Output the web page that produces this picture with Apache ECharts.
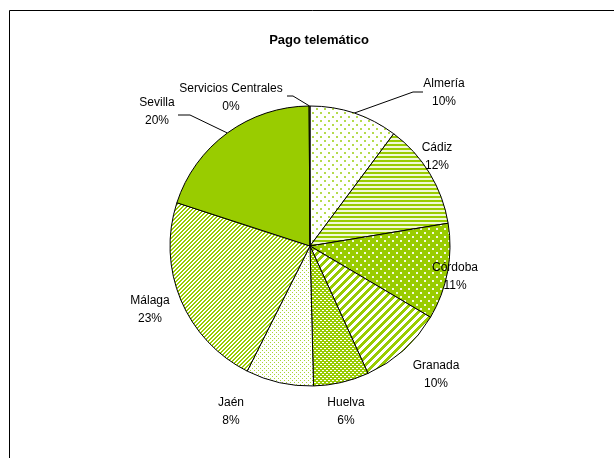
<!DOCTYPE html>
<html>
<head>
<meta charset="utf-8">
<script src="https://cdn.jsdelivr.net/npm/echarts@6/dist/echarts.min.js"></script>
<style>
    html, body {margin: 0; padding: 0; background: #fff;}
    #pago {width: 614px; height: 458px;}
</style>
</head>
<body>
<div id="pago"></div>
<script>
// datos del gráfico
var provincias = ['Almería', 'Cádiz', 'Córdoba', 'Granada', 'Huelva', 'Jaén', 'Málaga', 'Sevilla', 'Servicios Centrales'];
var valores = [10.2, 12.2, 11.1, 9.7, 6.4, 7.8, 22.6, 19.9, 0.1];
var titulo = 'Pago telemático';

(function () {
    var VERDE = '#99CC00';
    var CX = 310, CY = 246, R = 140;

    // tramas de relleno (como en Excel)
    function trama(w, h, dibujar) {
        var c = document.createElement('canvas');
        c.width = w; c.height = h;
        var ctx = c.getContext('2d');
        dibujar(ctx, w, h);
        return {image: c, repeat: 'repeat'};
    }
    function puntos(fondo, punto, paso, tam) {
        return trama(paso, paso, function (ctx) {
            ctx.fillStyle = fondo; ctx.fillRect(0, 0, paso, paso);
            ctx.fillStyle = punto;
            ctx.fillRect(0, 0, tam, tam);
            ctx.fillRect(paso / 2, paso / 2, tam, tam);
        });
    }
    function diagonal(paso, ancho) {
        return trama(paso, paso, function (ctx) {
            ctx.fillStyle = '#fff'; ctx.fillRect(0, 0, paso, paso);
            ctx.fillStyle = VERDE;
            for (var x = 0; x < paso; x++) {
                for (var y = 0; y < paso; y++) {
                    if ((x + y) % paso < ancho) ctx.fillRect(x, y, 1, 1);
                }
            }
        });
    }
    var rellenos = [
        puntos('#fff', '#b5db4d', 8, 2),                 // Almería
        trama(1, 4, function (ctx) {                    // Cádiz
            ctx.fillStyle = '#f0f8d8'; ctx.fillRect(0, 0, 1, 4);
            ctx.fillStyle = VERDE; ctx.fillRect(0, 0, 1, 2);
        }),
        puntos(VERDE, '#f4fae0', 8, 2),                  // Córdoba
        diagonal(8, 4),                                  // Granada
        trama(4, 4, function (ctx) {                    // Huelva
            ctx.fillStyle = VERDE; ctx.fillRect(0, 0, 4, 4);
            ctx.fillStyle = '#fff';
            ctx.fillRect(0, 0, 2, 1); ctx.fillRect(2, 2, 2, 1);
        }),
        puntos('#fff', '#a8d435', 4, 1),                 // Jaén
        diagonal(4, 2),                                  // Málaga
        VERDE,                                           // Sevilla
        VERDE                                            // Servicios Centrales
    ];

    // posición de las etiquetas respecto al centro de la tarta
    var etiquetas = [
        [134, -153], [127, -89], [145, 31], [126, 129], [36, 166],
        [-79, 166], [-160, 64], [-153, -134], [-79, -148]
    ];
    // líneas guía (codo y final), sólo para algunas
    var guias = {
        0: [[103, -154], [113, -154]],
        7: [[-120, -131], [-132, -131]],
        8: [[-17, -150], [-23, -150]]
    };

    var total = valores.reduce(function (a, b) { return a + b; }, 0);
    function bordeMedio(i) {
        var acum = 0;
        for (var k = 0; k < i; k++) acum += valores[k];
        var ang = (acum + valores[i] / 2) / total * 2 * Math.PI;
        return [CX + R * Math.sin(ang), CY - R * Math.cos(ang)];
    }

    var datos = provincias.map(function (p, i) {
        return {
            name: p,
            value: valores[i],
            itemStyle: {color: rellenos[i]},
            labelLine: {show: !!guias[i]}
        };
    });

    var grafico = echarts.init(document.getElementById('pago'));
    var option = {
        backgroundColor: '#fff',
        animation: false,
        graphic: [
            {
                type: 'rect',
                shape: {x: 9.5, y: 10.5, width: 640, height: 480},
                style: {fill: null, stroke: '#000', lineWidth: 1}
            },
            {
                type: 'text',
                x: 319, y: 40,
                style: {
                    text: titulo,
                    align: 'center', verticalAlign: 'middle',
                    font: 'bold 13px "Liberation Sans", Arial, sans-serif',
                    fill: '#000'
                }
            }
        ],
        series: [
            {
                type: 'pie',
                center: [CX, CY],
                radius: R,
                startAngle: 90,
                clockwise: true,
                percentPrecision: 0,
                avoidLabelOverlap: false,
                itemStyle: {borderColor: '#000', borderWidth: 1},
                label: {
                    show: true,
                    position: 'outside',
                    formatter: '{b}\n{d}%',
                    color: '#000',
                    fontSize: 12,
                    lineHeight: 18,
                    align: 'center',
                    fontFamily: '"Liberation Sans", Arial, sans-serif'
                },
                labelLine: {lineStyle: {color: '#000', width: 1}, length: 10, length2: 10},
                labelLayout: function (params) {
                    var i = params.dataIndex;
                    var res = {
                        x: CX + etiquetas[i][0],
                        y: CY + etiquetas[i][1],
                        align: 'center',
                        verticalAlign: 'middle'
                    };
                    if (guias[i]) {
                        var p0 = bordeMedio(i);
                        res.labelLinePoints = [p0].concat(guias[i].map(function (g) {
                            return [CX + g[0], CY + g[1]];
                        }));
                    }
                    return res;
                },
                emphasis: {disabled: true},
                data: datos
            }
        ]
    };
    grafico.setOption(option);

    window.addEventListener('resize', function () {
        grafico.resize();
    });
}());
</script>
</body>
</html>
